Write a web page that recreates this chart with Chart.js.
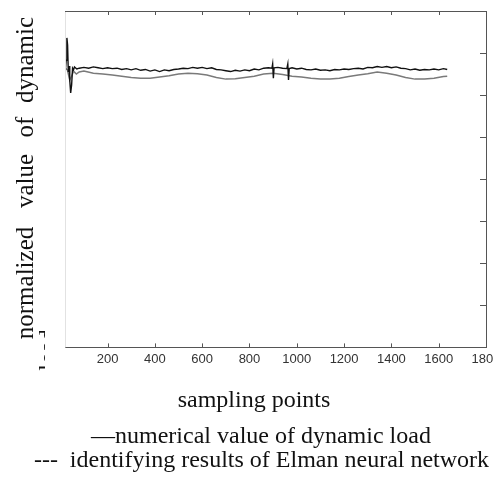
<!DOCTYPE html>
<html>
<head>
<meta charset="utf-8">
<script src="https://cdn.jsdelivr.net/npm/chart.js@4/dist/chart.umd.min.js"></script>
<style>
  html, body { margin: 0; padding: 0; background: #fff; overflow: hidden; }
  #wrap { position: relative; width: 493px; height: 482px; overflow: hidden; }
  #plot { position: absolute; left: 0; top: 0; }
  .cap {
    position: absolute; left: 0; text-align: center; white-space: pre;
    font-family: "Liberation Serif", "Times New Roman", serif;
    font-size: 24px; line-height: 24px; color: #111;
  }
</style>
</head>
<body>
<div id="wrap">
  <canvas id="plot" width="510" height="482"></canvas>
  <div class="cap" style="top:387px;width:508px">sampling points</div>
  <div class="cap" style="top:423px;width:522px">—numerical value of dynamic load</div>
  <div class="cap" style="top:447px;width:523px">---  identifying results of Elman neural network</div>
</div>
<script>
// Tick labels on the sampling axis
const xTicks = [200, 400, 600, 800, 1000, 1200, 1400, 1600, 1800];

// Identifying results of Elman network (black, noisy)
const identSamples = [
  22, 25, 28, 31, 34, 37, 40, 44, 48, 52, 56, 60, 70, 80,
  100, 120, 140, 160, 180, 200, 220, 240, 260, 280,
  300, 320, 340, 360, 380, 400, 420, 440, 460, 480,
  500, 520, 540, 560, 580, 600, 620, 640, 660, 680,
  700, 720, 740, 760, 780, 800, 820, 840, 860, 880,
  895, 898, 901, 904, 920, 940, 958, 962, 965, 968,
  980, 1000, 1020, 1040, 1060, 1080, 1100, 1120, 1140, 1160,
  1180, 1200, 1220, 1240, 1260, 1280, 1300, 1320, 1340, 1360,
  1380, 1400, 1420, 1440, 1460, 1480, 1500, 1520, 1540, 1560,
  1580, 1600, 1620, 1636
];
const identValues = [
  6.60, 6.83, 7.36, 7.19, 6.55, 6.69, 6.36, 6.05, 6.24, 6.64, 6.60, 6.67, 6.62, 6.64,
  6.66, 6.64, 6.67, 6.65, 6.63, 6.65, 6.63, 6.64, 6.61, 6.63,
  6.60, 6.63, 6.59, 6.61, 6.57, 6.60, 6.56, 6.60, 6.58, 6.61,
  6.62, 6.64, 6.63, 6.66, 6.64, 6.66, 6.63, 6.65, 6.61, 6.60,
  6.58, 6.56, 6.59, 6.57, 6.60, 6.58, 6.62, 6.60, 6.64, 6.65,
  6.64, 6.74, 6.40, 6.65, 6.66, 6.64, 6.63, 6.74, 6.36, 6.63,
  6.65, 6.62, 6.64, 6.61, 6.60, 6.62, 6.59, 6.60, 6.58, 6.61,
  6.60, 6.62, 6.61, 6.63, 6.64, 6.62, 6.66, 6.65, 6.68, 6.66,
  6.68, 6.65, 6.67, 6.64, 6.63, 6.60, 6.62, 6.59, 6.61, 6.60,
  6.62, 6.60, 6.63, 6.61
];

// Numerical value of dynamic load (grey, smooth)
const loadSamples = [
  22, 30, 40, 48, 56, 68, 80,
  100, 140, 180, 220, 260, 300, 340, 380, 420, 460,
  500, 540, 580, 620, 660, 700, 740, 780, 820, 860,
  900, 940, 980, 1020, 1060, 1100, 1140, 1180, 1220, 1260,
  1300, 1340, 1380, 1420, 1460, 1500, 1540, 1580, 1620, 1636
];
const loadValues = [
  6.64, 6.60, 6.36, 6.45, 6.57, 6.50, 6.55,
  6.57, 6.52, 6.50, 6.48, 6.45, 6.42, 6.40, 6.40, 6.43, 6.46,
  6.50, 6.52, 6.51, 6.48, 6.42, 6.38, 6.39, 6.42, 6.45, 6.50,
  6.52, 6.49, 6.45, 6.43, 6.40, 6.38, 6.38, 6.40, 6.44, 6.48,
  6.51, 6.55, 6.52, 6.48, 6.42, 6.38, 6.38, 6.40, 6.44, 6.45
];

// Rotated y label words, spread out like the original
const yWords = [
  { text: 'normalized', y: 283 },
  { text: 'value', y: 181 },
  { text: 'of', y: 127 },
  { text: 'dynamic', y: 60 }
];

function toPoints(xs, ys) {
  return xs.map((x, i) => ({ x: x, y: ys[i] }));
}

// frame, inward tick marks and the rotated y title
const framePlugin = {
  id: 'framePlugin',
  afterDraw(chart) {
    const { ctx, chartArea: a, scales } = chart;
    const seg = (x1, y1, x2, y2) => {
      ctx.beginPath(); ctx.moveTo(x1, y1); ctx.lineTo(x2, y2); ctx.stroke();
    };
    ctx.save();
    ctx.lineWidth = 1;
    ctx.strokeStyle = '#e2e2e2';
    seg(a.left + 0.5, a.top, a.left + 0.5, a.bottom);
    ctx.strokeStyle = '#555';
    seg(a.left, a.top + 0.5, a.right + 1, a.top + 0.5);
    scales.x.ticks.forEach(t => {
      const px = Math.round(scales.x.getPixelForValue(t.value)) + 0.5;
      seg(px, a.top, px, a.top + 4);
      seg(px, a.bottom, px, a.bottom - 4);
    });
    scales.y.ticks.forEach(t => {
      const py = Math.round(scales.y.getPixelForValue(t.value)) + 0.5;
      seg(a.right, py, a.right - 6, py);
    });

    ctx.fillStyle = '#111';
    ctx.font = '25px "Liberation Serif", "Times New Roman", serif';
    ctx.textAlign = 'center';
    ctx.textBaseline = 'alphabetic';
    ctx.translate(33, 0);
    ctx.rotate(-Math.PI / 2);
    yWords.forEach(w => ctx.fillText(w.text, -w.y, 0));
    ctx.restore();

    // second line of the label, mostly cut off
    ctx.save();
    ctx.beginPath();
    ctx.rect(0, 320, 45, 60);
    ctx.clip();
    ctx.fillStyle = '#111';
    ctx.font = '24px "Liberation Serif", "Times New Roman", serif';
    ctx.textAlign = 'center';
    ctx.translate(55, 0);
    ctx.rotate(-Math.PI / 2);
    ctx.fillText('load', -350, 0);
    ctx.restore();
  }
};

const chart = new Chart(document.getElementById('plot'), {
  type: 'line',
  data: {
    datasets: [
      {
        label: 'identifying results of Elman neural network',
        data: toPoints(identSamples, identValues),
        borderColor: '#111',
        borderWidth: 1.4,
        pointRadius: 0,
        tension: 0
      },
      {
        label: 'numerical value of dynamic load',
        data: toPoints(loadSamples, loadValues),
        borderColor: '#7a7a7a',
        borderWidth: 1.5,
        pointRadius: 0,
        tension: 0
      }
    ]
  },
  options: {
    responsive: false,
    animation: false,
    layout: { padding: { left: 65, top: 11, right: 24, bottom: 111 } },
    plugins: {
      legend: { display: false },
      tooltip: { enabled: false }
    },
    scales: {
      x: {
        type: 'linear',
        min: 20,
        max: 1800,
        afterBuildTicks: scale => { scale.ticks = xTicks.map(v => ({ value: v })); },
        grid: { display: false, drawTicks: false },
        border: { display: true, color: '#555' },
        ticks: {
          autoSkip: false,
          maxRotation: 0,
          padding: 4,
          color: '#333',
          font: { family: '"Liberation Sans", Arial', size: 13 },
          callback: v => String(v)
        }
      },
      y: {
        position: 'right',
        min: 0,
        max: 8,
        ticks: { display: false, stepSize: 1 },
        grid: { display: false, drawTicks: false },
        border: { display: true, color: '#555' }
      }
    }
  },
  plugins: [framePlugin]
});
</script>
</body>
</html>
